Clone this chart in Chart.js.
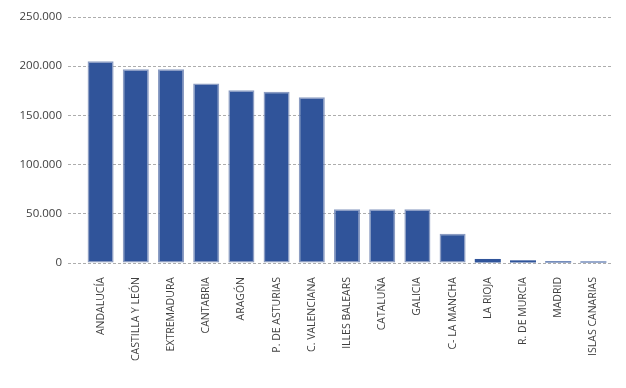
<!DOCTYPE html>
<html>
<head>
<meta charset="utf-8">
<script src="https://cdn.jsdelivr.net/npm/chart.js@4/dist/chart.umd.min.js"></script>
<style>
html,body{margin:0;padding:0;background:#fff;}
#wrap{width:626px;height:388px;position:relative;}
</style>
</head>
<body>
<div id="wrap"><canvas id="c" width="626" height="388"></canvas></div>
<script>
const categories = ["ANDALUCÍA","CASTILLA Y LEÓN","EXTREMADURA","CANTABRIA","ARAGÓN","P. DE ASTURIAS","C. VALENCIANA","ILLES BALEARS","CATALUÑA","GALICIA","C- LA MANCHA","LA RIOJA","R. DE MURCIA","MADRID","ISLAS CANARIAS"];
const values = [205000,197000,197000,182500,175500,174000,168500,54700,54700,54700,29700,4100,2700,1700,600];
const yTicks = [0,50000,100000,150000,200000,250000];

function fmt(v){ return String(v).replace(/\B(?=(\d{3})+(?!\d))/g, "."); }

new Chart(document.getElementById('c'), {
  type: 'bar',
  data: {
    labels: categories,
    datasets: [{
      data: values,
      backgroundColor: '#30549a',
      borderColor: 'rgba(120,140,185,0.85)',
      borderWidth: ctx => (ctx.raw > 10000 ? 1.5 : 0),
      borderSkipped: false,
      minBarLength: 1.5,
      categoryPercentage: 1,
      barPercentage: 0.74
    }]
  },
  options: {
    responsive: false,
    animation: false,
    devicePixelRatio: 1,
    layout: { padding: { top: 17, right: 15, left: 0, bottom: 0 } },
    plugins: { legend: { display: false }, tooltip: { enabled: false } },
    scales: {
      x: {
        grid: { display: false },
        border: { display: false },
        ticks: {
          autoSkip: false, maxRotation: 90, minRotation: 90, padding: 6,
          color: '#404040', font: { family: 'Open Sans', size: 10.5 }
        },
        afterFit: s => { s.height = 125; }
      },
      y: {
        min: 0, max: 250000,
        afterBuildTicks: s => { s.ticks = yTicks.map(v => ({ value: v })); },
        grid: { color: '#adadad', lineWidth: 1, tickLength: 15, tickBorderDash: [3,2], tickColor: '#adadad' },
        border: { display: false, dash: [3,2] },
        ticks: {
          padding: 6, color: '#404040', font: { family: 'Open Sans', size: 11.5 },
          callback: v => fmt(v)
        },
        afterFit: s => { s.width = 83; }
      }
    }
  }
});
</script>
</body>
</html>
